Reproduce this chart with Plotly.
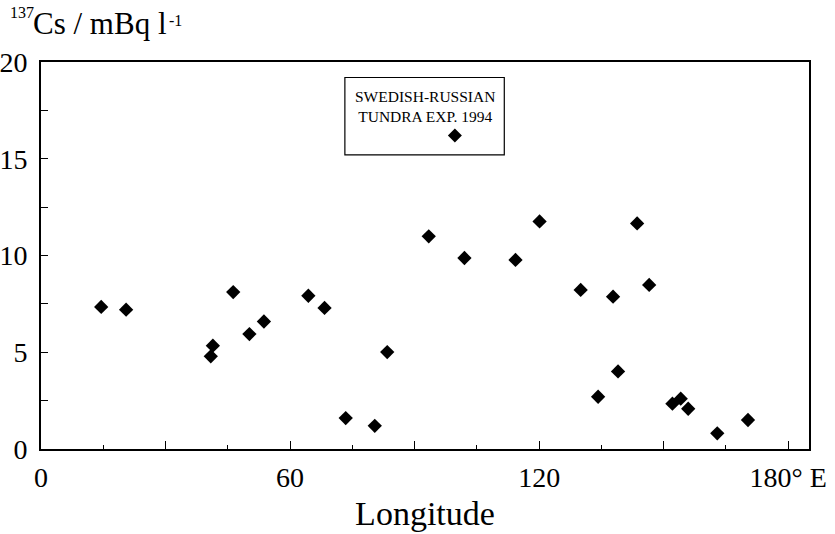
import plotly.graph_objects as go

# Sampling stations: longitude (deg E) and 137Cs activity (mBq/l)
longitude = [14.5, 20.5, 41.4, 40.9, 46.3, 50.2, 53.7, 64.4, 68.3, 73.4,
             80.4, 83.4, 93.4, 102.0, 114.3, 120.1, 130.0, 134.2, 137.8,
             139.0, 143.6, 146.5, 152.1, 154.1, 155.9, 162.9, 170.3]
cs137 = [7.34, 7.20, 5.34, 4.79, 8.11, 5.94, 6.59, 7.92, 7.29, 1.60,
         1.20, 5.01, 10.99, 9.87, 9.77, 11.76, 8.22, 2.70, 7.87,
         4.01, 11.66, 8.48, 2.34, 2.60, 2.08, 0.81, 1.50]

x_tickvals = [0, 30, 60, 90, 120, 150, 180]
x_ticktext = ["0", "", "60", "", "120", "", "180° E"]
y_tickvals = [0, 2.5, 5, 7.5, 10, 12.5, 15, 17.5, 20]
y_ticktext = ["0", "", "5", "", "10", "", "15", "", "20"]

legend_lines = ["SWEDISH-RUSSIAN", "TUNDRA EXP. 1994"]

FONT = "Liberation Serif, Times New Roman, serif"

# plot area in pixels
L, R, T, B = 41, 26, 62, 85
W, H = 835, 534
PW, PH = W - L - R, H - T - B


def px_x(px):
    return (px - L) / PW


def px_y(py):
    return (H - B - py) / PH


fig = go.Figure()
fig.add_trace(go.Scatter(
    x=longitude, y=cs137, mode="markers",
    marker=dict(symbol="diamond", size=11, color="black", line=dict(width=0)),
    showlegend=False, hoverinfo="x+y",
))

axis_common = dict(
    showgrid=False, zeroline=False, showline=True, linecolor="black",
    linewidth=1.6, mirror=True, ticks="inside", tickcolor="black",
    tickfont=dict(family=FONT, size=28, color="black"), automargin=False,
)

fig.update_xaxes(
    range=[0, 185], tickmode="array", tickvals=x_tickvals, ticktext=x_ticktext,
    ticklen=8, tickwidth=1.2,
    minor=dict(dtick=15, tick0=0, ticks="inside", ticklen=4, tickcolor="black", tickwidth=1),
    ticklabelstandoff=3,
    title=dict(text="Longitude", font=dict(family=FONT, size=34, color="black"), standoff=9),
    **axis_common,
)
fig.update_yaxes(
    range=[0, 20], tickmode="array", tickvals=y_tickvals, ticktext=y_ticktext,
    ticklen=7, tickwidth=1.2, ticklabelstandoff=6,
    **axis_common,
)

# Unit label above the plot
fig.add_annotation(xref="paper", yref="paper", x=px_x(8), y=px_y(12),
                   xanchor="left", yanchor="middle", showarrow=False,
                   text="137", font=dict(family=FONT, size=16, color="black"))
fig.add_annotation(xref="paper", yref="paper", x=px_x(31), y=px_y(23),
                   xanchor="left", yanchor="middle", showarrow=False,
                   text="Cs / mBq l", font=dict(family=FONT, size=31, color="black"))
fig.add_annotation(xref="paper", yref="paper", x=px_x(167), y=px_y(20),
                   xanchor="left", yanchor="middle", showarrow=False,
                   text="-1", font=dict(family=FONT, size=16, color="black"))

# Legend box with caption and symbol
fig.add_shape(type="rect", xref="x", yref="y", x0=73.2, x1=111.6, y0=15.2, y1=19.2,
              line=dict(color="black", width=1.2), fillcolor="white", layer="below")
fig.add_annotation(xref="x", yref="y", x=92.4, y=17.7, showarrow=False,
                   text="<br>".join(legend_lines),
                   font=dict(family=FONT, size=15.5, color="black"))
fig.add_shape(type="path", xref="x", yref="y", xsizemode="pixel", ysizemode="pixel",
              xanchor=99.7, yanchor=16.2,
              path="M 0 7 L 7 0 L 0 -7 L -7 0 Z",
              fillcolor="black", line=dict(width=0))

fig.update_layout(
    width=W, height=H,
    margin=dict(l=L, r=R, t=T, b=B),
    paper_bgcolor="white", plot_bgcolor="white",
    font=dict(family=FONT, color="black"),
)

fig.write_html("out.html")
